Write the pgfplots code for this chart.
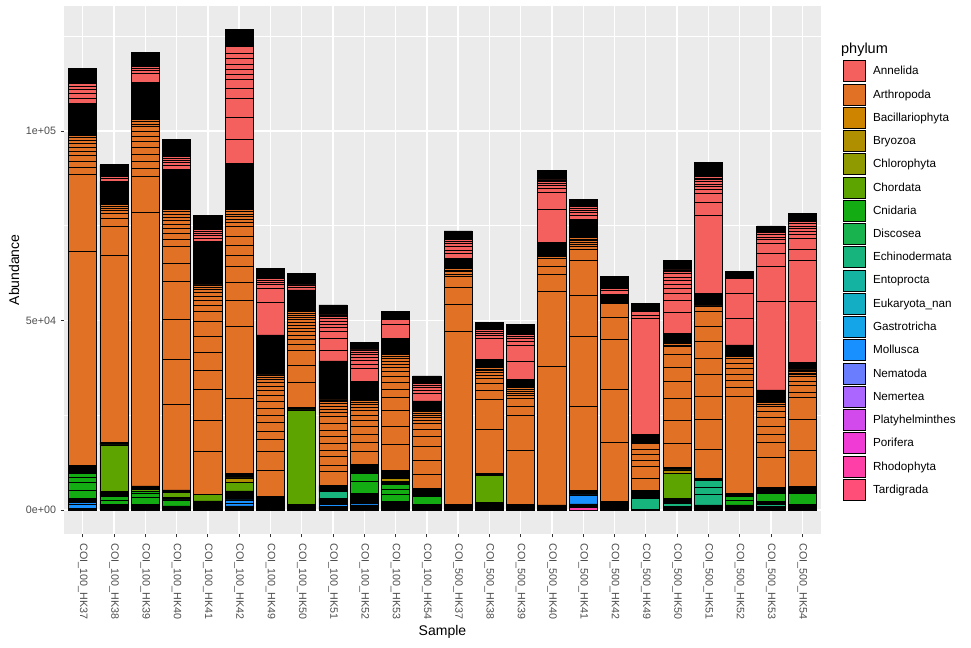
\documentclass[border=0pt]{standalone}
\usepackage{fontspec}
\setmainfont{Liberation Sans}
\usepackage{pgfplots}
\usepackage{pgfplotstable}
\pgfplotsset{compat=1.18}

\definecolor{ggbg}{HTML}{EBEBEB}
\definecolor{gray30}{HTML}{4D4D4D}
\definecolor{gray20}{HTML}{333333}
\definecolor{cAnn}{HTML}{F4605E}
\definecolor{cArt}{HTML}{E17124}
\definecolor{cBac}{HTML}{CF8400}
\definecolor{cBry}{HTML}{AF8F00}
\definecolor{cChl}{HTML}{8F9A00}
\definecolor{cCho}{HTML}{5EA400}
\definecolor{cCni}{HTML}{13AD13}
\definecolor{cDis}{HTML}{18B24F}
\definecolor{cEch}{HTML}{18B47E}
\definecolor{cEnt}{HTML}{14B2A0}
\definecolor{cEuk}{HTML}{14AEC4}
\definecolor{cGas}{HTML}{14A5E8}
\definecolor{cMol}{HTML}{1890FF}
\definecolor{cNma}{HTML}{6B7DFF}
\definecolor{cNme}{HTML}{AA66FF}
\definecolor{cPla}{HTML}{D24AEC}
\definecolor{cPor}{HTML}{F03CD4}
\definecolor{cRho}{HTML}{FF3FA8}
\definecolor{cTar}{HTML}{FF4F78}

% one row per sample, one column per stacked segment (bottom to top)
\pgfplotstableread{
x rho b0 mo1 mo2 b1 ech1 ech2 ech3 bE cn1 cn2 cn3 cn4 b2 ch1 bry b3 a1 a2 a3 a4 a5 a6 a7 a8 a9 a10 a11 a12 a13 a14 a15 b4 n1 n2 n3 n4 n5 n6 n7 n8 n9 n10 n11 b5
0 0 500 900 700 1000 0 0 0 0 2100 2000 1500 1050 2000 0 0 0 56550 20240 1930 1580 1500 1200 1000 900 800 750 630 0 0 0 0 8360 1500 1200 1000 900 680 0 0 0 0 0 0 3960
1 0 1320 0 0 260 0 0 0 0 1060 870 0 0 1320 12330 0 710 49450 7470 2200 1200 800 600 500 430 0 0 0 0 0 0 0 6150 800 520 0 0 0 0 0 0 0 0 0 3090
2 0 1580 0 0 0 0 0 0 0 1670 1100 500 0 0 610 0 880 72250 9400 2220 1740 1770 1930 1580 1320 1320 1320 700 600 470 0 0 9950 2380 800 550 390 0 0 0 0 0 0 0 3800
3 0 1060 0 0 0 0 0 0 0 1580 0 0 0 610 1320 0 710 22700 11880 10480 9930 4860 4380 1770 1770 1320 1100 950 850 750 650 530 10740 1000 800 650 500 380 0 0 0 0 0 0 4410
4 0 2380 0 0 0 0 0 0 0 0 0 0 0 0 1770 0 0 11250 8370 8180 4830 4750 4220 3960 2640 1770 1200 1050 950 800 700 580 11430 900 750 600 480 360 0 0 0 0 0 0 3700
5 0 1060 790 790 2380 0 0 0 0 0 0 0 0 0 2300 1140 1230 19800 19090 6860 4670 4120 3090 2640 2190 2640 1000 850 750 700 600 510 12330 6340 5700 4940 2640 2380 1500 1140 1500 1580 1320 1740 4410
6 0 3510 0 0 0 0 0 0 0 0 0 0 0 0 0 0 0 7050 4830 3350 2110 2190 1850 1950 1930 1580 1200 1050 950 800 700 580 10560 8630 3700 900 700 600 440 0 0 0 0 0 2640
7 0 1580 0 0 0 0 0 0 0 0 0 0 0 0 24820 0 710 6600 4570 3960 1450 1300 1150 1000 900 800 700 650 600 550 500 510 5730 700 620 0 0 0 0 0 0 0 0 0 3090
8 0 870 500 400 1320 1740 0 0 0 0 0 0 0 1580 0 0 0 3700 1770 2190 1770 1770 1740 1770 1770 1930 1000 850 750 650 550 420 10300 2900 3090 1740 1000 900 800 700 600 410 0 0 2640
9 0 1320 450 0 2640 0 0 0 0 3060 2220 0 0 2380 0 0 0 3330 2380 2220 2010 1580 1500 1320 750 650 550 450 400 290 0 0 4380 3540 1100 950 850 750 650 530 0 0 0 0 2030
10 0 2190 0 0 0 0 0 0 0 1950 1320 1320 0 870 0 610 2220 6860 4650 4330 3330 2220 1930 1580 1320 1000 850 750 700 600 510 0 4220 3700 1320 0 0 0 0 0 0 0 0 0 1930
11 0 1580 0 0 0 0 0 0 0 1930 0 0 0 2220 0 0 0 3770 3700 3510 2640 2030 1500 850 700 600 550 450 360 0 0 0 2380 2030 800 700 600 540 0 0 0 0 0 0 1930
12 0 1580 0 0 0 0 0 0 0 0 0 0 0 0 0 0 0 45670 7130 4300 2900 700 600 450 350 300 240 0 0 0 0 0 2220 1200 1000 900 800 600 520 0 0 0 0 0 2190
13 0 870 0 0 0 0 0 0 0 260 0 0 0 870 7130 0 630 11430 8100 2270 1950 1320 750 650 550 450 380 280 0 0 0 0 1950 5540 700 600 500 390 0 0 0 0 0 0 2030
14 0 1580 0 0 0 0 0 0 0 0 0 0 0 0 0 0 0 14070 9420 2190 2220 750 650 550 450 380 280 0 0 0 0 0 1950 4830 4220 900 750 650 600 0 0 0 0 0 2560
15 0 1320 0 0 0 0 0 0 0 0 0 0 0 0 0 0 0 36510 19800 4590 2190 2030 450 350 300 250 220 170 0 0 0 0 2480 8710 4570 900 700 600 500 470 0 0 0 0 2380
16 690 910 2380 0 1140 0 0 0 0 0 0 0 0 0 0 0 0 22180 18480 10820 9160 3090 700 600 550 450 380 300 0 0 0 0 4940 900 750 650 550 480 0 0 0 0 0 0 1770
17 0 2190 0 0 0 0 0 0 0 0 0 0 0 0 0 0 0 15580 14100 13020 5890 3620 300 250 200 120 0 0 0 0 0 0 1690 900 680 0 0 0 0 0 0 0 0 0 3060
18 0 180 0 0 0 2900 0 0 0 0 0 0 0 2190 0 0 0 3090 3060 1770 1580 1240 1580 250 170 0 0 0 0 0 0 0 2030 30540 900 840 0 0 0 0 0 0 0 0 2220
19 0 870 0 0 0 900 0 0 0 0 0 0 0 1320 6600 870 610 6440 5970 5910 4380 3800 3510 1930 400 350 300 270 0 0 0 0 2220 5440 3170 1950 1300 1100 1000 900 800 600 450 0 2380
20 0 1320 0 0 0 2820 1850 1740 0 0 0 0 0 630 0 0 0 7740 7840 5970 5910 4220 4380 3960 3960 1500 250 200 150 110 0 0 2640 20670 3350 2380 900 800 700 650 550 450 330 0 3700
21 0 1320 0 0 0 0 0 0 0 1320 870 0 0 900 0 0 0 25690 2300 1930 1580 1500 1320 1320 450 350 300 220 0 0 0 0 2190 7050 6420 4140 0 0 0 0 0 0 0 0 1740
22 0 870 0 0 0 710 0 0 610 2220 0 0 0 1580 0 0 0 7920 3850 2300 2110 2300 1660 1320 450 380 320 250 0 0 0 0 2820 23500 9240 3350 2640 900 750 650 500 0 0 0 1770
23 0 1580 0 0 0 0 0 0 0 2820 0 0 0 1740 0 0 0 9690 8180 5730 1400 1660 1240 1140 550 450 420 350 0 0 0 0 2030 16180 10820 2900 2820 1000 850 750 650 600 530 0 2220
}\data

\newcommand\lay[2]{\addplot[fill=#1] table[x=x,y=#2]{\data};}
\newcommand\tickfont{\fontsize{10.7}{12}\selectfont}
\newcommand\legfont{\fontsize{11.7}{13}\selectfont}
\newcommand\titlefont{\fontsize{14}{16}\selectfont}
\newcommand\legtitlefont{\fontsize{14.5}{16}\selectfont}

\begin{document}
\begin{tikzpicture}
\begin{axis}[
  width=757pt, height=528.2pt, scale only axis,
  xmin=-0.6, xmax=23.6, ymin=-6336, ymax=133056,
  ybar stacked, bar width=0.9,
  clip=false,
  axis background/.style={fill=ggbg},
  axis line style={draw=none},
  every axis plot/.append style={draw=black, line width=0.8pt, forget plot},
  tick align=outside,
  major tick length=3.3pt, minor tick length=0pt,
  tick style={color=gray20, line width=0.8pt},
  xtick pos=bottom, ytick pos=left,
  xtick={0,...,23},
  xticklabels={COI\_100\_HK37,COI\_100\_HK38,COI\_100\_HK39,COI\_100\_HK40,COI\_100\_HK41,COI\_100\_HK42,COI\_100\_HK49,COI\_100\_HK50,COI\_100\_HK51,COI\_100\_HK52,COI\_100\_HK53,COI\_100\_HK54,COI\_500\_HK37,COI\_500\_HK38,COI\_500\_HK39,COI\_500\_HK40,COI\_500\_HK41,COI\_500\_HK42,COI\_500\_HK49,COI\_500\_HK50,COI\_500\_HK51,COI\_500\_HK52,COI\_500\_HK53,COI\_500\_HK54},
  ytick={0,50000,100000},
  yticklabels={0e+00,5e+04,1e+05},
  minor ytick={25000,75000,125000},
  scaled y ticks=false,
  xmajorgrids, ymajorgrids, yminorgrids,
  major grid style={white, line width=1.4pt},
  minor grid style={white, line width=0.7pt},
  xticklabel style={rotate=-90, anchor=west, font=\tickfont, text=gray30, inner sep=0pt},
  yticklabel style={anchor=east, font=\tickfont, text=gray30, inner sep=0pt},
  xticklabel shift=6pt, yticklabel shift=4.5pt,
  xlabel={Sample}, ylabel={Abundance},
  xlabel style={font=\titlefont, at={(rel axis cs:0.5,-0.1855)}, anchor=center},
  ylabel style={font=\titlefont, at={(rel axis cs:-0.066,0.5)}, anchor=center},
  lgd/.style={legend image code/.code={\draw[fill=#1,draw=black,line width=0.8pt] (0pt,-10.5pt) rectangle (21.8pt,10.5pt);}},
  legend cell align=left,
  legend style={at={(1.029,0.897)}, anchor=north west, draw=none, fill=none,
    inner sep=0pt, row sep=1.45pt, column sep=7.3pt, font=\legfont,
    nodes={inner sep=0pt}},
]
\lay{cRho}{rho}
\lay{black}{b0}
\lay{cMol}{mo1}
\lay{cMol}{mo2}
\lay{black}{b1}
\lay{cEch}{ech1}
\lay{cEch}{ech2}
\lay{cEch}{ech3}
\lay{black}{bE}
\lay{cCni}{cn1}
\lay{cCni}{cn2}
\lay{cCni}{cn3}
\lay{cCni}{cn4}
\lay{black}{b2}
\lay{cCho}{ch1}
\lay{cBry}{bry}
\lay{black}{b3}
\lay{cArt}{a1}
\lay{cArt}{a2}
\lay{cArt}{a3}
\lay{cArt}{a4}
\lay{cArt}{a5}
\lay{cArt}{a6}
\lay{cArt}{a7}
\lay{cArt}{a8}
\lay{cArt}{a9}
\lay{cArt}{a10}
\lay{cArt}{a11}
\lay{cArt}{a12}
\lay{cArt}{a13}
\lay{cArt}{a14}
\lay{cArt}{a15}
\lay{black}{b4}
\lay{cAnn}{n1}
\lay{cAnn}{n2}
\lay{cAnn}{n3}
\lay{cAnn}{n4}
\lay{cAnn}{n5}
\lay{cAnn}{n6}
\lay{cAnn}{n7}
\lay{cAnn}{n8}
\lay{cAnn}{n9}
\lay{cAnn}{n10}
\lay{cAnn}{n11}
\lay{black}{b5}

\addlegendimage{lgd=cAnn}\addlegendentry{Annelida}
\addlegendimage{lgd=cArt}\addlegendentry{Arthropoda}
\addlegendimage{lgd=cBac}\addlegendentry{Bacillariophyta}
\addlegendimage{lgd=cBry}\addlegendentry{Bryozoa}
\addlegendimage{lgd=cChl}\addlegendentry{Chlorophyta}
\addlegendimage{lgd=cCho}\addlegendentry{Chordata}
\addlegendimage{lgd=cCni}\addlegendentry{Cnidaria}
\addlegendimage{lgd=cDis}\addlegendentry{Discosea}
\addlegendimage{lgd=cEch}\addlegendentry{Echinodermata}
\addlegendimage{lgd=cEnt}\addlegendentry{Entoprocta}
\addlegendimage{lgd=cEuk}\addlegendentry{Eukaryota\_nan}
\addlegendimage{lgd=cGas}\addlegendentry{Gastrotricha}
\addlegendimage{lgd=cMol}\addlegendentry{Mollusca}
\addlegendimage{lgd=cNma}\addlegendentry{Nematoda}
\addlegendimage{lgd=cNme}\addlegendentry{Nemertea}
\addlegendimage{lgd=cPla}\addlegendentry{Platyhelminthes}
\addlegendimage{lgd=cPor}\addlegendentry{Porifera}
\addlegendimage{lgd=cRho}\addlegendentry{Rhodophyta}
\addlegendimage{lgd=cTar}\addlegendentry{Tardigrada}

\node[anchor=base west, font=\legtitlefont, inner sep=0pt] at (rel axis cs:1.0264,0.9106) {phylum};
\path (rel axis cs:-0.0845,-0.2158) rectangle (rel axis cs:1.1982,1.011);
\end{axis}
\end{tikzpicture}
\end{document}
